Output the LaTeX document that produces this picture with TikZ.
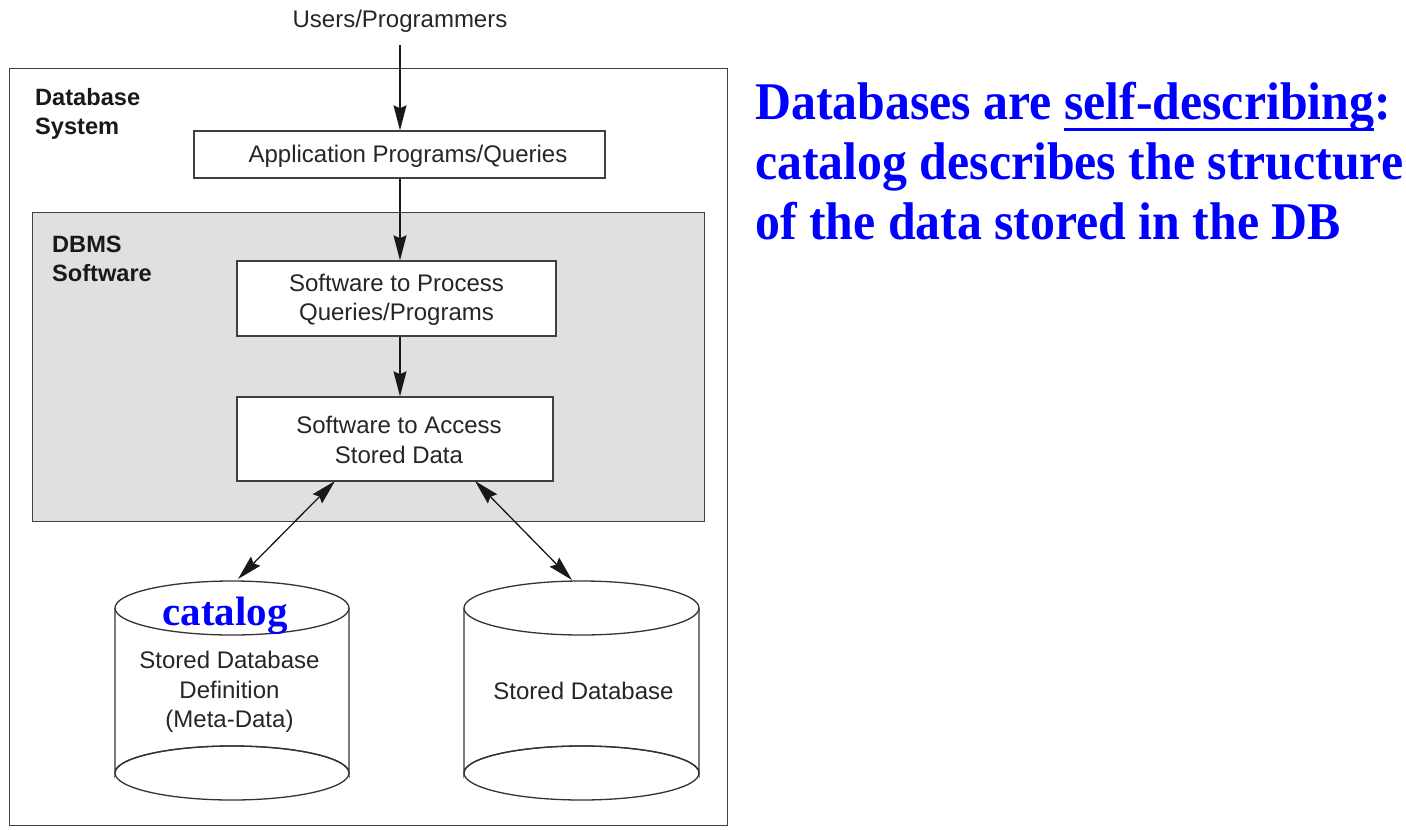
\documentclass[tikz,border=0pt]{standalone}
\usepackage{fontspec}
\setmainfont{Liberation Serif}
\setsansfont{Liberation Sans}
\newfontfamily\notefont[FakeStretch=0.94]{Liberation Serif}
\newcommand\myuline[1]{\setbox0=\hbox{#1}\rlap{\rule[-11.5pt]{\wd0}{3pt}}\box0}
\usetikzlibrary{arrows.meta,calc}
\begin{document}
\begin{tikzpicture}[x=1pt,y=-1pt,
  lbl/.style={font=\fontsize{24}{29.5}\selectfont\sffamily, text=black!85, align=center, inner sep=0},
  bl/.style={font=\fontsize{23.6}{29}\selectfont\sffamily\bfseries, text=black!90, align=left, inner sep=0, anchor=north west},
  box/.style={draw=black!75, line width=1.4pt, fill=white, inner sep=0},
  arr/.style={-{Stealth[length=25pt, width=13pt, inset=3pt]}, line width=1.3pt, draw=black!90},
  darr/.style={{Stealth[length=25pt, width=13pt, inset=3pt]}-{Stealth[length=25pt, width=13pt, inset=3pt]}, line width=1.3pt, draw=black!90},
  cyl/.style={draw=black!80, line width=1.3pt},
  note/.style={font=\fontsize{53}{60}\notefont\bfseries, text=blue, inner sep=0, align=left, anchor=base west}]
\useasboundingbox (0,0) rectangle (1406,830);
% outer system box
\node[draw=black!75, line width=1.4pt, inner sep=0, minimum width=718pt, minimum height=757pt, anchor=north west] (sys) at (9,68) {};
\node[bl] (syslbl) at (35,88.5) {Database\\System};
% users
\node[lbl] (users) at (400,21) {Users/Programmers};
\coordinate (ustart) at (400,45);
% application box
\node[box, minimum width=411pt, minimum height=47pt] (app) at (399.5,154.5) {};
\node[lbl] (apptxt) at (408,156) {Application Programs/Queries};
% DBMS gray box
\node[draw=black!75, line width=1.4pt, fill=black!12, inner sep=0, minimum width=672pt, minimum height=309pt, anchor=north west] (dbms) at (32,212) {};
\node[bl] (dbmslbl) at (52,235.5) {DBMS\\Software};
% process box
\node[box, minimum width=319pt, minimum height=75pt] (proc) at (396.5,298.5) {};
\node[lbl] (proctxt) at (396.5,300) {Software to Process\\Queries/Programs};
% access box
\node[box, minimum width=316pt, minimum height=84pt] (acc) at (395,439) {};
\node[lbl] (acctxt) at (399,440) {Software to Access\\Stored Data};
% arrows
\draw[arr] (ustart) -- (app.north -| ustart);
\draw[arr] (app.south -| ustart) -- (proc.north -| ustart);
\draw[arr] (proc.south -| ustart) -- (acc.north -| ustart);
\coordinate (a1) at (335,481);
\coordinate (a2) at (475,481);
\coordinate (c1top) at (238,579);
\coordinate (c2top) at (572,580);
% cylinder 1
\draw[cyl, fill=white] (115,608) -- (115,773) arc[start angle=180, end angle=360, x radius=117, y radius=27] -- (349,608);
\draw[cyl] (232,773) ellipse[x radius=117, y radius=27];
\draw[cyl, fill=white] (232,608) ellipse[x radius=117, y radius=27];
% cylinder 2
\draw[cyl, fill=white] (464,608) -- (464,773) arc[start angle=180, end angle=360, x radius=117.5, y radius=27] -- (699,608);
\draw[cyl] (581.5,773) ellipse[x radius=117.5, y radius=27];
\draw[cyl, fill=white] (581.5,608) ellipse[x radius=117.5, y radius=27];
\draw[darr] (a1) -- (c1top);
\draw[darr] (a2) -- (c2top);
\node[lbl] (cyl1txt) at (229.5,692) {Stored Database\\Definition\\(Meta-Data)};
\node[lbl] (cyl2txt) at (583.5,691) {Stored Database};
\node[font=\fontsize{41}{41}\selectfont\bfseries, text=blue, inner sep=0, anchor=base] (catalog) at (225,625) {catalog};
% note
\node[note] (note) at (755,239.3) {Databases are \myuline{self-describing}:\\catalog describes the structure\\of the data stored in the DB};
\end{tikzpicture}
\end{document}
